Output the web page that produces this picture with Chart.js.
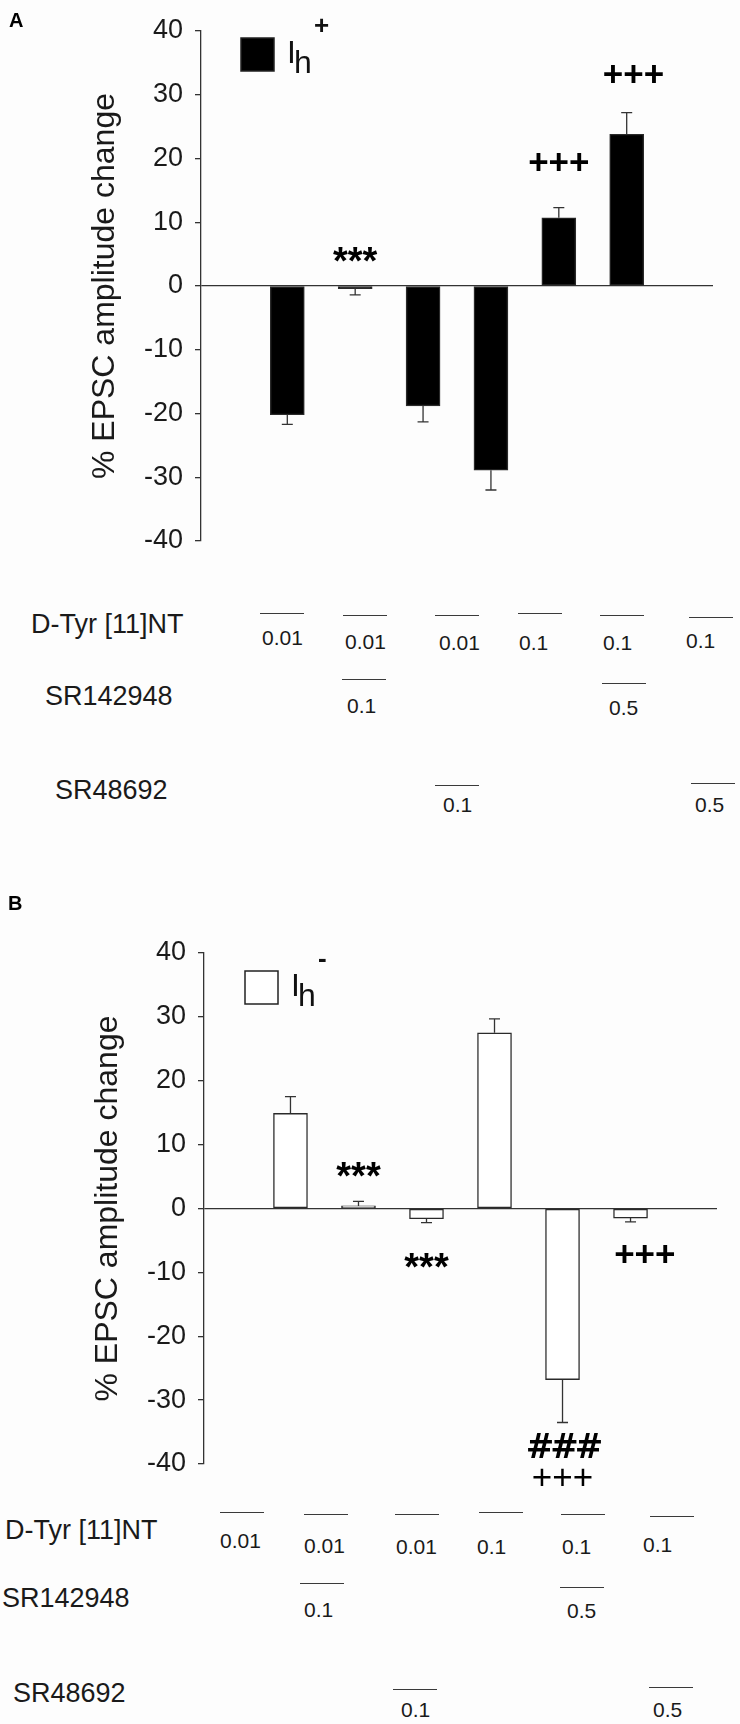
<!DOCTYPE html>
<html>
<head>
<meta charset="utf-8">
<script src="https://cdn.jsdelivr.net/npm/chart.js@4.4.0/dist/chart.umd.min.js"></script>
<style>
  html, body { margin: 0; padding: 0; background: #fdfdfd; }
  body { position: relative; width: 740px; height: 1724px; overflow: hidden;
         font-family: "Liberation Sans", Arial, sans-serif; color: #1a1a1a; }
  .wrap { position: absolute; left: 0; width: 740px; }
  .txt { position: absolute; white-space: nowrap; line-height: 1; }
  .rule { position: absolute; height: 0; width: 44px; border-top: 1.3px solid #3a3a3a; }
</style>
</head>
<body>
<div class="wrap" style="top:0;height:580px"><canvas id="chartA"></canvas></div>
<div class="wrap" style="top:870px;height:640px"><canvas id="chartB"></canvas></div>
<script>
// six treatment groups, left to right
var groups = [0, 1, 2, 3, 4, 5];

// % EPSC amplitude change, Ih+ cells (panel A) and Ih- cells (panel B)
var ihPlus = [-20.2, -0.4, -18.8, -28.9, 10.7, 23.8];
var ihPlusErr = [1.5, 1.0, 2.5, 3.1, 1.6, 3.4];
var ihMinus = [14.9, 0.4, -1.6, 27.5, -26.8, -1.5];
var ihMinusErr = [2.6, 0.7, 0.6, 2.2, 6.7, 0.6];

var yMin = -40, yMax = 40, yStep = 10;

// concentrations under each bar ('' = not applied)
var rowNames = ['D-Tyr [11]NT', 'SR142948', 'SR48692'];
var dTyr = ['0.01', '0.01', '0.01', '0.1', '0.1', '0.1'];
var sr142948 = ['', '0.1', '', '', '0.5', ''];
var sr48692 = ['', '', '0.1', '', '', '0.5'];

// significance marks: bar index, text, height in axis units
var marksA = [
    { bar: 1, text: '***', at: 4.9 },
    { bar: 4, text: '+++', at: 19.4 },
    { bar: 5, text: '+++', at: 33.2, shift: 0.1 }
];
var marksB = [
    { bar: 1, text: '***', at: 6.1 },
    { bar: 2, text: '***', at: -8.2 },
    { bar: 4, text: '###', at: -37.1 },
    { bar: 4, text: '+++', at: -42.0, light: true },
    { bar: 5, text: '+++', at: -7.2, shift: 0.21 }
];

var FONT = '"Liberation Sans", Arial, sans-serif';
Chart.defaults.font.family = FONT;
Chart.defaults.color = '#1a1a1a';

// error bars, significance marks, panel letter and legend
function extrasPlugin(o) {
    return {
        id: 'extras',
        afterDatasetsDraw: function(chart) {
            var ctx = chart.ctx, xs = chart.scales.x, ys = chart.scales.y;
            var data = chart.data.datasets[0].data;
            ctx.save();
            ctx.strokeStyle = '#333';
            ctx.lineWidth = 1.3;
            o.errors.forEach(function(e, i) {
                var v = data[i].y;
                var px = xs.getPixelForValue(data[i].x);
                var y0 = ys.getPixelForValue(v);
                var y1 = ys.getPixelForValue(v < 0 ? v - e : v + e);
                ctx.beginPath();
                ctx.moveTo(px, y0);
                ctx.lineTo(px, y1);
                ctx.moveTo(px - 5.5, y1);
                ctx.lineTo(px + 5.5, y1);
                ctx.stroke();
            });

            ctx.fillStyle = '#000';
            ctx.textAlign = 'center';
            ctx.textBaseline = 'alphabetic';
            o.marks.forEach(function(m) {
                var c = m.text.charAt(0);
                if (c === '#') {
                    ctx.font = 'bold 34px "DejaVu Sans", ' + FONT;
                    ctx.letterSpacing = '-4px';
                } else {
                    ctx.font = (m.light ? '' : 'bold ') + (c === '*' ? '38px ' : '35px ') + FONT;
                    ctx.letterSpacing = '0px';
                }
                var mt = ctx.measureText(m.text);
                var px = xs.getPixelForValue(m.bar + (m.shift || 0));
                var py = ys.getPixelForValue(m.at);
                ctx.fillText(m.text, px, py + (mt.actualBoundingBoxAscent - mt.actualBoundingBoxDescent) / 2);
            });
            ctx.letterSpacing = '0px';

            // panel letter
            ctx.textAlign = 'left';
            ctx.font = 'bold 20px ' + FONT;
            ctx.fillText(o.letter, o.letterPos[0], o.letterPos[1]);

            // legend: swatch + I with subscript h and a sign superscript
            var lg = o.legend;
            ctx.fillStyle = lg.fill;
            ctx.fillRect(lg.x, lg.y, 33, 33);
            ctx.strokeStyle = '#222';
            ctx.lineWidth = 1.5;
            ctx.strokeRect(lg.x, lg.y, 33, 33);
            ctx.fillStyle = '#111';
            ctx.font = '32px ' + FONT;
            ctx.fillText('I', lg.x + 46, lg.y + 25);
            ctx.fillText('h', lg.x + 53, lg.y + 35);
            ctx.font = 'bold 26px ' + FONT;
            ctx.fillText(lg.sign, lg.x + 73, lg.y - 4);
            ctx.restore();
        }
    };
}

function makeChart(id, values, errors, color, opt) {
    return new Chart(document.getElementById(id), {
        type: 'bar',
        data: {
            datasets: [{
                data: groups.map(function(g, i) { return { x: g, y: values[i] }; }),
                backgroundColor: color,
                borderColor: '#2a2a2a',
                borderWidth: 1.4,
                borderSkipped: false,
                barThickness: 34
            }]
        },
        options: {
            responsive: true,
            maintainAspectRatio: false,
            animation: false,
            layout: { padding: opt.padding },
            plugins: {
                legend: { display: false },
                tooltip: { enabled: false }
            },
            scales: {
                x: { type: 'linear', min: -0.8, max: 5.8, display: false },
                y: {
                    min: yMin, max: yMax,
                    afterFit: function(s) { s.width = opt.axisLeft; },
                    ticks: { stepSize: yStep, padding: 12, font: { size: 27 }, color: '#1a1a1a' },
                    grid: {
                        tickLength: 6,
                        lineWidth: 1.3,
                        tickColor: '#333',
                        color: function(c) { return c.tick && c.tick.value === 0 ? '#333' : 'rgba(0,0,0,0)'; }
                    },
                    border: { display: true, color: '#333', width: 1.3 },
                    title: {
                        display: true,
                        text: '% EPSC amplitude change',
                        font: { size: 32 },
                        color: '#1a1a1a',
                        padding: { top: opt.titlePad, bottom: 0 }
                    }
                }
            }
        },
        plugins: [extrasPlugin({
            errors: errors,
            marks: opt.marks,
            letter: opt.letter,
            letterPos: opt.letterPos,
            legend: opt.legend
        })]
    });
}

makeChart('chartA', ihPlus, ihPlusErr, '#000', {
    padding: { left: 0, right: 27, top: 31, bottom: 39 },
    axisLeft: 201,
    titlePad: 86,
    marks: marksA,
    letter: 'A',
    letterPos: [9, 27],
    legend: { x: 241, y: 38, fill: '#000', sign: '+' }
});

makeChart('chartB', ihMinus, ihMinusErr, '#fff', {
    padding: { left: 0, right: 23, top: 83, bottom: 46 },
    axisLeft: 204,
    titlePad: 89,
    marks: marksB,
    letter: 'B',
    letterPos: [8, 40],
    legend: { x: 245, y: 101, fill: '#fff', sign: '-' }
});

// treatment table under each panel (page coordinates)
var tableA = {
    nameX: [31, 45, 55], nameBase: [634, 706, 800],
    lineX: [[260, 343, 435, 518, 600, 689], [0, 342, 0, 0, 602, 0], [0, 0, 435, 0, 0, 691]],
    lineY: [[613, 615, 615, 613, 615, 617], [0, 679, 0, 0, 683, 0], [0, 0, 785, 0, 0, 783]],
    textX: [[262, 345, 439, 519, 603, 686], [0, 347, 0, 0, 609, 0], [0, 0, 443, 0, 0, 695]],
    textBase: [[645, 649, 650, 650, 650, 648], [0, 713, 0, 0, 715, 0], [0, 0, 812, 0, 0, 812]]
};
var tableB = {
    nameX: [5, 2, 13], nameBase: [1540, 1608, 1703],
    lineX: [[220, 304, 395, 479, 561, 650], [0, 300, 0, 0, 560, 0], [0, 0, 393, 0, 0, 649]],
    lineY: [[1512, 1514, 1514, 1512, 1514, 1516], [0, 1583, 0, 0, 1587, 0], [0, 0, 1689, 0, 0, 1687]],
    textX: [[220, 304, 396, 477, 562, 643], [0, 304, 0, 0, 567, 0], [0, 0, 401, 0, 0, 653]],
    textBase: [[1548, 1553, 1554, 1554, 1554, 1552], [0, 1617, 0, 0, 1618, 0], [0, 0, 1717, 0, 0, 1717]]
};

function addText(str, x, base, size) {
    var d = document.createElement('div');
    d.className = 'txt';
    d.textContent = str;
    d.style.fontSize = size + 'px';
    d.style.left = x + 'px';
    d.style.top = (base - 0.85 * size) + 'px';
    document.body.appendChild(d);
}

function addRule(x, y) {
    var d = document.createElement('div');
    d.className = 'rule';
    d.style.left = x + 'px';
    d.style.top = y + 'px';
    document.body.appendChild(d);
}

function drawTable(t) {
    [dTyr, sr142948, sr48692].forEach(function(row, r) {
        addText(rowNames[r], t.nameX[r], t.nameBase[r], 27);
        row.forEach(function(v, i) {
            if (!v) return;
            addRule(t.lineX[r][i], t.lineY[r][i]);
            addText(v, t.textX[r][i], t.textBase[r][i], 21);
        });
    });
}

drawTable(tableA);
drawTable(tableB);
</script>
</body>
</html>
